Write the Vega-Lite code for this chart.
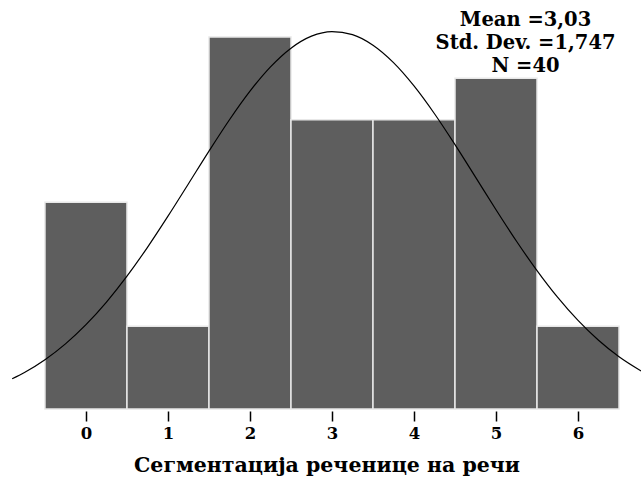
{
  "$schema": "https://vega.github.io/schema/vega-lite/v6.json",
  "width": 629,
  "height": 409,
  "autosize": {"type": "none"},
  "padding": {"left": 12, "top": 0, "right": 0, "bottom": 74},
  "background": "white",
  "config": {
    "view": {"stroke": null},
    "font": "DejaVu Serif"
  },
  "datasets": {
    "bars": [
      {"value": 0, "lo": -0.5, "hi": 0.5, "count": 5},
      {"value": 1, "lo": 0.5, "hi": 1.5, "count": 2},
      {"value": 2, "lo": 1.5, "hi": 2.5, "count": 9},
      {"value": 3, "lo": 2.5, "hi": 3.5, "count": 7},
      {"value": 4, "lo": 3.5, "hi": 4.5, "count": 7},
      {"value": 5, "lo": 4.5, "hi": 5.5, "count": 8},
      {"value": 6, "lo": 5.5, "hi": 6.5, "count": 2}
    ],
    "curve": [
      {"x": -0.9, "y": 0.732},
      {"x": -0.75, "y": 0.884},
      {"x": -0.5, "y": 1.193},
      {"x": -0.25, "y": 1.576},
      {"x": 0, "y": 2.04},
      {"x": 0.25, "y": 2.587},
      {"x": 0.5, "y": 3.214},
      {"x": 0.75, "y": 3.912},
      {"x": 1.0, "y": 4.666},
      {"x": 1.25, "y": 5.451},
      {"x": 1.5, "y": 6.24},
      {"x": 1.75, "y": 6.999},
      {"x": 2.0, "y": 7.69},
      {"x": 2.25, "y": 8.278},
      {"x": 2.5, "y": 8.731},
      {"x": 2.75, "y": 9.022},
      {"x": 3.0, "y": 9.133},
      {"x": 3.25, "y": 9.059},
      {"x": 3.5, "y": 8.802},
      {"x": 3.75, "y": 8.381},
      {"x": 4.0, "y": 7.817},
      {"x": 4.25, "y": 7.144},
      {"x": 4.5, "y": 6.396},
      {"x": 4.75, "y": 5.61},
      {"x": 5.0, "y": 4.821},
      {"x": 5.25, "y": 4.059},
      {"x": 5.5, "y": 3.349},
      {"x": 5.75, "y": 2.706},
      {"x": 6.0, "y": 2.143},
      {"x": 6.25, "y": 1.662},
      {"x": 6.5, "y": 1.263},
      {"x": 6.77, "y": 0.918}
    ],
    "stats": [
      {"lines": ["Mean =3,03", "Std. Dev. =1,747", "N =40"]}
    ]
  },
  "layer": [
    {
      "data": {"name": "bars"},
      "mark": {"type": "bar", "fill": "#5e5e5e", "stroke": "#e8e8e8", "strokeWidth": 1.5},
      "encoding": {
        "x": {
          "field": "lo", "type": "quantitative",
          "scale": {"domain": [-0.902, 6.768], "nice": false, "zero": false},
          "axis": {
            "values": [0, 1, 2, 3, 4, 5, 6],
            "format": "d",
            "domain": false,
            "grid": false,
            "ticks": true,
            "tickSize": 10,
            "tickColor": "black",
            "tickWidth": 1.5,
            "offset": 2,
            "labelFont": "DejaVu Serif",
            "labelFontWeight": "bold",
            "labelFontSize": 16.5,
            "labelColor": "black",
            "labelPadding": 4,
            "title": "Сегментација реченице на речи",
            "titleFont": "DejaVu Serif",
            "titleFontWeight": "bold",
            "titleFontSize": 20.5,
            "titleColor": "black",
            "titlePadding": 14
          }
        },
        "x2": {"field": "hi"},
        "y": {
          "field": "count", "type": "quantitative",
          "scale": {"domain": [0, 9.896], "nice": false},
          "axis": null
        },
        "y2": {"datum": 0}
      }
    },
    {
      "data": {"name": "curve"},
      "mark": {"type": "line", "color": "black", "strokeWidth": 1.2, "interpolate": "monotone"},
      "encoding": {
        "x": {"field": "x", "type": "quantitative"},
        "y": {"field": "y", "type": "quantitative"}
      }
    },
    {
      "data": {"name": "stats"},
      "mark": {
        "type": "text",
        "font": "DejaVu Serif",
        "fontWeight": "bold",
        "fontSize": 19.5,
        "align": "center",
        "baseline": "top",
        "lineHeight": 23,
        "color": "black"
      },
      "encoding": {
        "x": {"datum": 5.36, "type": "quantitative"},
        "y": {"datum": 9.62, "type": "quantitative"},
        "text": {"field": "lines"}
      }
    }
  ]
}
